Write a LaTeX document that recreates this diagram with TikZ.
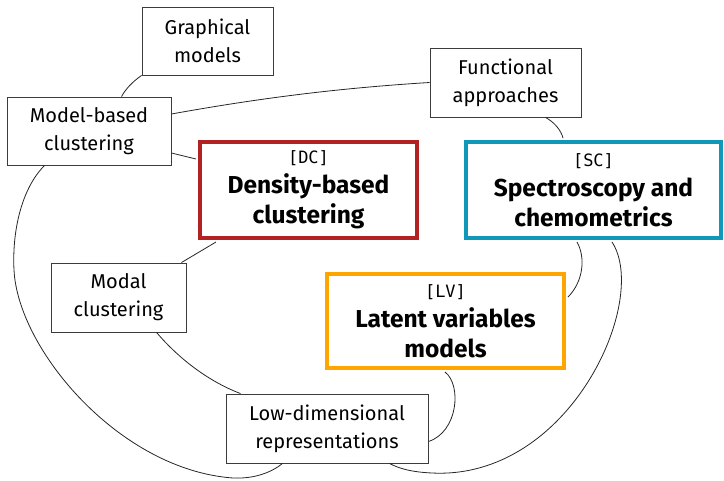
\documentclass[tikz,border=0pt]{standalone}
\usepackage{fontspec}
\usetikzlibrary{calc}
\setmainfont{Fira Sans}
\newfontfamily\codefont{DejaVu Sans Mono}
\definecolor{dcred}{RGB}{178,34,34}
\definecolor{scteal}{RGB}{16,152,184}
\definecolor{lvorange}{RGB}{255,165,0}
\definecolor{boxgray}{RGB}{60,60,60}
\newcommand{\tagtext}[1]{{\codefont\mdseries\fontsize{17}{20}\selectfont #1}}
\begin{document}
\begin{tikzpicture}[x=1pt,y=-1pt,
  plainbox/.style={draw=boxgray, line width=0.9pt, fill=white, align=center, inner sep=0pt, font=\fontsize{20}{28}\selectfont},
  mainbox/.style={line width=4pt, fill=white, align=center, inner sep=0pt, font=\fontsize{24.5}{30}\selectfont\bfseries},
  link/.style={draw=black!85, line width=0.8pt}]
\useasboundingbox (0,0) rectangle (724,480);
% main boxes
\node[mainbox, draw=dcred, minimum width=217pt, minimum height=96pt] (dc) at (308.5,190) {\tagtext{[DC]}\\Density-based\\clustering};
\node[mainbox, draw=scteal, minimum width=255pt, minimum height=96pt] (sc) at (593.5,190) {\tagtext{[SC]}\\Spectroscopy and\\chemometrics};
\node[mainbox, draw=lvorange, minimum width=237pt, minimum height=94pt] (lv) at (445.5,321) {\tagtext{[LV]}\\Latent variables\\models};
% plain boxes
\node[plainbox, minimum width=131pt, minimum height=68pt] (gm) at (207.5,41) {Graphical\\models};
\node[plainbox, minimum width=164pt, minimum height=68pt] (mb) at (89,131) {Model-based\\clustering};
\node[plainbox, minimum width=151pt, minimum height=69pt] (fa) at (505.5,82.5) {Functional\\approaches};
\node[plainbox, minimum width=135pt, minimum height=69pt] (mc) at (118.5,297.5) {Modal\\clustering};
\node[plainbox, minimum width=202pt, minimum height=69pt] (ld) at (327,428.5) {Low-dimensional\\representations};
% connectors
\draw[link] (gm.south west) .. controls (132,82) and (125,90) .. ($(mb.north west)+(115,0)$);
\draw[link] ($(mb.east)+(0,-17)$) .. controls (260,98) and (340,88) .. (fa.west);
\draw[link] ($(mb.east)+(0,22)$) -- ($(dc.west)+(-2,-31)$);
\draw[link] ($(mb.south west)+(38,0)$) .. controls (22,188) and (12,230) .. (14,270) .. controls (18,350) and (120,470) .. (233,478) .. controls (255,479) and (272,472) .. ($(ld.south west)+(57,0)$);
\draw[link] ($(dc.south west)+(18,2)$) -- ($(mc.north east)+(-5,0)$);
\draw[link] ($(mc.south west)+(106,0)$) .. controls (180,360) and (210,382) .. ($(ld.north west)+(15,0)$);
\draw[link] ($(fa.south west)+(116,0)$) .. controls (554,122) and (561,130) .. ($(sc.north west)+(99,-2)$);
\draw[link] ($(sc.south west)+(113,2)$) .. controls (586,258) and (583,282) .. ($(lv.east)+(2,-24)$);
\draw[link] ($(sc.south west)+(148,2)$) .. controls (650,300) and (570,480) .. (432,473) .. controls (410,472) and (398,468) .. ($(ld.south west)+(164,0)$);
\draw[link] ($(lv.south west)+(120,2)$) .. controls (462,385) and (458,432) .. ($(ld.east)+(0,13)$);
\end{tikzpicture}
\end{document}
